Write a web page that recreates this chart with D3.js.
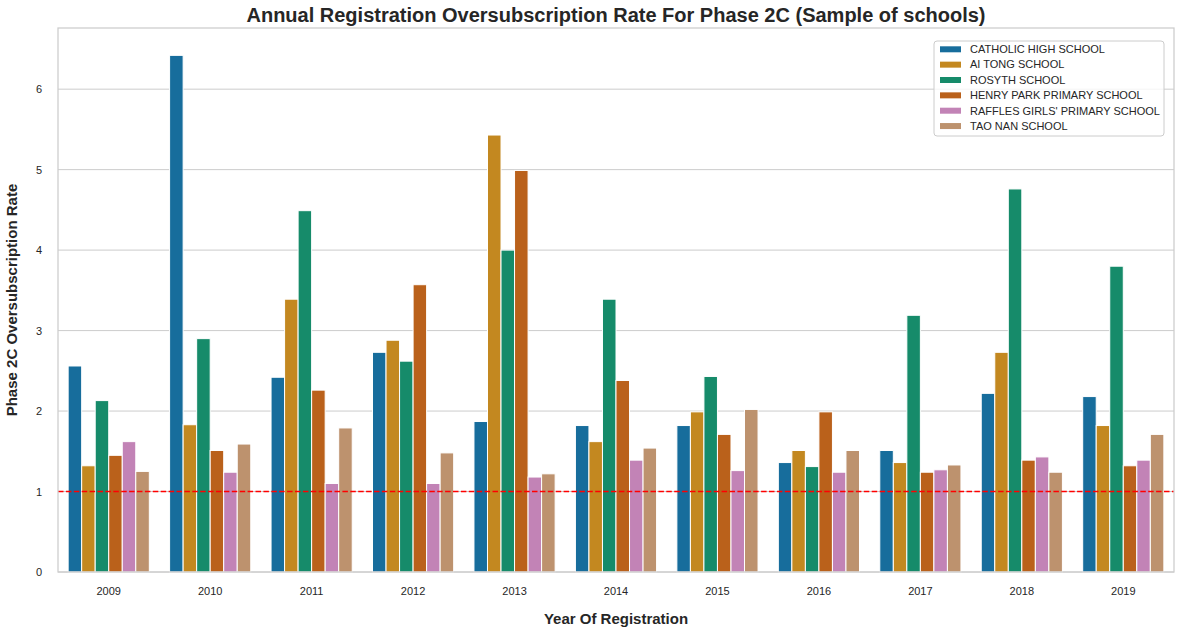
<!DOCTYPE html>
<html>
<head>
<meta charset="utf-8">
<script src="https://cdn.jsdelivr.net/npm/d3@7/dist/d3.min.js"></script>
<style>
  html, body { margin: 0; padding: 0; background: #fff; }
  svg { display: block; font-family: "Liberation Sans", Arial, sans-serif; }
</style>
</head>
<body>
<svg id="chart" width="1181" height="634"></svg>
<script>
const years = ["2009","2010","2011","2012","2013","2014","2015","2016","2017","2018","2019"];
const schools = ["CATHOLIC HIGH SCHOOL","AI TONG SCHOOL","ROSYTH SCHOOL","HENRY PARK PRIMARY SCHOOL","RAFFLES GIRLS' PRIMARY SCHOOL","TAO NAN SCHOOL"];
const catholic  = [2.56, 6.42, 2.42, 2.73, 1.87, 1.82, 1.82, 1.36, 1.51, 2.22, 2.18];
const aiTong    = [1.32, 1.83, 3.39, 2.88, 5.43, 1.62, 1.99, 1.51, 1.36, 2.73, 1.82];
const rosyth    = [2.13, 2.90, 4.49, 2.62, 4.00, 3.39, 2.43, 1.31, 3.19, 4.76, 3.80];
const henryPark = [1.45, 1.51, 2.26, 3.57, 4.99, 2.38, 1.71, 1.99, 1.24, 1.39, 1.32];
const raffles   = [1.62, 1.24, 1.10, 1.10, 1.18, 1.39, 1.26, 1.24, 1.27, 1.43, 1.39];
const taoNan    = [1.25, 1.59, 1.79, 1.48, 1.22, 1.54, 2.02, 1.51, 1.33, 1.24, 1.71];
const yTicks = [0, 1, 2, 3, 4, 5, 6];
const yDomainMax = 6.76;
const threshold = 1;
const colors = ["#176d9c", "#c38820", "#168b6a", "#ba611b", "#c283b6", "#bd926e"];

const seriesValues = [catholic, aiTong, rosyth, henryPark, raffles, taoNan];
const data = [];
years.forEach((yr, i) => schools.forEach((s, j) => data.push({year: yr, school: s, value: seriesValues[j][i]})));

const svg = d3.select("#chart");
const m = {left: 58, right: 7, top: 28, bottom: 62};
const W = 1181, H = 634;
const pw = W - m.left - m.right, ph = H - m.top - m.bottom;

const x = d3.scaleBand().domain(years).range([m.left, m.left + pw]).paddingInner(0.2).paddingOuter(0.1);
const xs = d3.scaleBand().domain(schools).range([0, x.bandwidth()]);
const y = d3.scaleLinear().domain([0, yDomainMax]).range([m.top + ph, m.top]);

// gridlines
svg.append("g").selectAll("line").data(yTicks).join("line")
  .attr("x1", m.left).attr("x2", m.left + pw)
  .attr("y1", d => y(d)).attr("y2", d => y(d))
  .attr("stroke", "#cccccc").attr("stroke-width", 1);

// bars
svg.append("g").selectAll("rect").data(data).join("rect")
  .attr("x", d => x(d.year) + xs(d.school))
  .attr("width", xs.bandwidth())
  .attr("y", d => y(d.value))
  .attr("height", d => y(0) - y(d.value))
  .attr("fill", d => colors[schools.indexOf(d.school)])
  .attr("stroke", "#ffffff").attr("stroke-width", 1);

// threshold line
svg.append("line")
  .attr("x1", m.left).attr("x2", m.left + pw)
  .attr("y1", y(threshold)).attr("y2", y(threshold))
  .attr("stroke", "#ff0000").attr("stroke-width", 1.5)
  .attr("stroke-dasharray", "5.5,2.4");

// frame
svg.append("rect").attr("x", m.left).attr("y", m.top).attr("width", pw).attr("height", ph)
  .attr("fill", "none").attr("stroke", "#cccccc").attr("stroke-width", 1.25);

// axes
const xAxis = svg.append("g").attr("transform", `translate(0,${m.top + ph})`)
  .call(d3.axisBottom(x).tickSize(0).tickPadding(15));
xAxis.select(".domain").remove();
xAxis.selectAll("text").attr("font-size", 11).attr("fill", "#262626").attr("font-family", "Liberation Sans, Arial, sans-serif");

const yAxis = svg.append("g").attr("transform", `translate(${m.left},0)`)
  .call(d3.axisLeft(y).tickValues(yTicks).tickFormat(d3.format("d")).tickSize(0).tickPadding(16));
yAxis.select(".domain").remove();
yAxis.selectAll("text").attr("font-size", 11).attr("fill", "#262626").attr("font-family", "Liberation Sans, Arial, sans-serif");

// title & labels
svg.append("text").attr("x", m.left + pw / 2).attr("y", 22).attr("text-anchor", "middle")
  .attr("font-size", 20).attr("font-weight", "bold").attr("fill", "#262626")
  .text("Annual Registration Oversubscription Rate For Phase 2C (Sample of schools)");
svg.append("text").attr("x", m.left + pw / 2).attr("y", 624).attr("text-anchor", "middle")
  .attr("font-size", 15).attr("font-weight", "bold").attr("fill", "#262626")
  .text("Year Of Registration");
svg.append("text").attr("transform", `translate(17,${m.top + ph / 2}) rotate(-90)`).attr("text-anchor", "middle")
  .attr("font-size", 15).attr("font-weight", "bold").attr("fill", "#262626")
  .text("Phase 2C Oversubscription Rate");

// legend
const lg = svg.append("g").attr("transform", "translate(934,41)");
lg.append("rect").attr("width", 230).attr("height", 95).attr("rx", 3)
  .attr("fill", "#ffffff").attr("fill-opacity", 0.8).attr("stroke", "#cccccc");
schools.forEach((s, i) => {
  const g = lg.append("g").attr("transform", `translate(0,${8.3 + i * 15.35})`);
  g.append("rect").attr("x", 6).attr("y", -3).attr("width", 21).attr("height", 6).attr("fill", colors[i]);
  g.append("text").attr("x", 36).attr("y", 3.8).attr("font-size", 11).attr("fill", "#262626").text(s);
});
</script>
</body>
</html>
